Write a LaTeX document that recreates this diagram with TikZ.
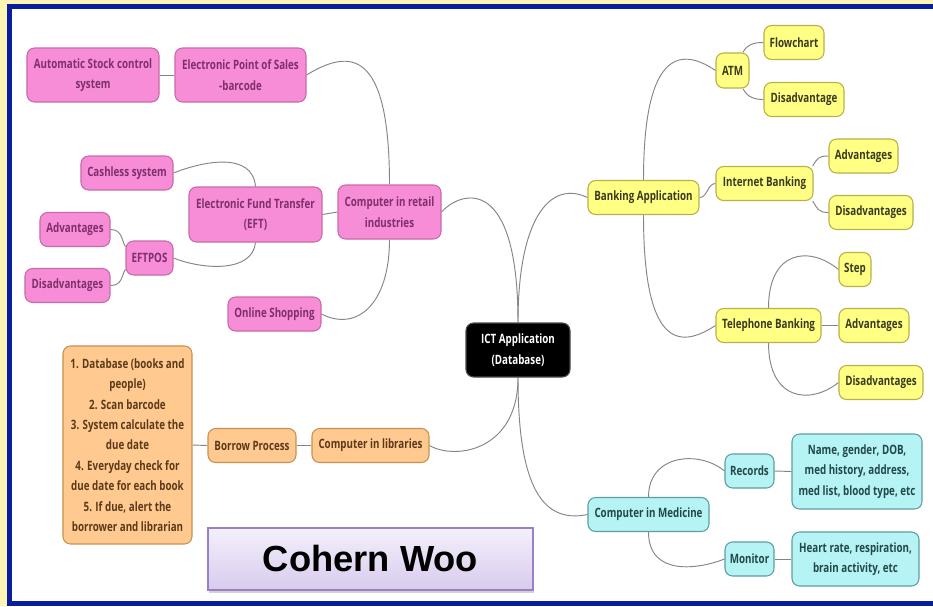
\documentclass[tikz,border=0pt]{standalone}
\usepackage{fontspec}
\setmainfont{Open Sans}[FakeStretch=0.76]
\newfontfamily\namefont{Liberation Sans}
\usetikzlibrary{backgrounds, shadows}
\definecolor{framebg}{HTML}{FDF5B5}
\definecolor{frameblue}{HTML}{0A1E9C}
\definecolor{pinkfill}{HTML}{F78DD6}
\definecolor{pinkline}{HTML}{C86AAA}
\definecolor{pinktext}{HTML}{7E2F6C}
\definecolor{yellowfill}{HTML}{FFFF84}
\definecolor{yellowline}{HTML}{B8B048}
\definecolor{yellowtext}{HTML}{3A3A20}
\definecolor{orangefill}{HTML}{FFC98F}
\definecolor{orangeline}{HTML}{C99050}
\definecolor{orangetext}{HTML}{5B3A1A}
\definecolor{cyanfill}{HTML}{B5F3F5}
\definecolor{cyanline}{HTML}{5E9EA0}
\definecolor{cyantext}{HTML}{234848}
\definecolor{nametop}{HTML}{F4F0FA}
\definecolor{namebottom}{HTML}{D8CBEE}
\definecolor{nameline}{HTML}{9B7FC4}
\definecolor{linkgray}{HTML}{858585}

\begin{document}
\begin{tikzpicture}[x=0.03cm, y=-0.03cm,
            topic/.style={rounded corners=6.5pt, line width=0.9pt, align=center,
                minimum height=1.02cm, inner sep=1pt,
                font=\bfseries\fontsize{11}{17.4}\selectfont},
            pinkbox/.style={topic, fill=pinkfill, draw=pinkline, text=pinktext},
            yellowbox/.style={topic, fill=yellowfill, draw=yellowline, text=yellowtext},
            orangebox/.style={topic, fill=orangefill, draw=orangeline, text=orangetext},
            cyanbox/.style={topic, fill=cyanfill, draw=cyanline, text=cyantext},
            rootbox/.style={topic, fill=black, draw=black!70, text=white},
            link/.style={draw=linkgray, line width=0.8pt}]
            \useasboundingbox (0,0) rectangle (933,606);
            \begin{scope}[on background layer]
                \fill[framebg] (0,0) rectangle (933,606);
                \fill[frameblue] (7,4) rectangle (933,606);
                \fill[white] (12,9) rectangle (933,601);
            \end{scope}

            \node[rootbox, minimum width=3.12cm, minimum height=1.62cm] (ict) at (518,350) {ICT Application\\(Database)};

            % retail
            \node[pinkbox, minimum width=3.96cm, minimum height=1.62cm] (autostock) at (93,75) {Automatic Stock control\\system};
            \node[pinkbox, minimum width=3.93cm, minimum height=1.62cm] (epos) at (240.5,75) {Electronic Point of Sales\\-barcode};
            \node[pinkbox, minimum width=2.76cm] (cashless) at (127,173) {Cashless system};
            \node[pinkbox, minimum width=3.99cm, minimum height=1.65cm] (eft) at (255.5,214.5) {Electronic Fund Transfer\\(EFT)};
            \node[pinkbox, minimum width=3.09cm, minimum height=1.62cm] (retail) at (389.5,212) {Computer in retail\\industries};
            \node[pinkbox, minimum width=2.1cm] (advl) at (75,229.5) {Advantages};
            \node[pinkbox, minimum width=1.41cm] (eftpos) at (149.5,258) {EFTPOS};
            \node[pinkbox, minimum width=2.55cm] (disl) at (67.5,285.5) {Disadvantages};
            \node[pinkbox, minimum width=2.79cm] (online) at (274.5,314) {Online Shopping};

            % libraries
            \node[orangebox, minimum width=3.87cm, minimum height=5.94cm] (steps) at (127.5,445) {1. Database (books and\\people)\\2. Scan barcode\\3. System calculate the\\due date\\4. Everyday check for\\due date for each book\\5. If due, alert the\\borrower and librarian};
            \node[orangebox, minimum width=2.64cm] (borrow) at (252,445.5) {Borrow Process};
            \node[orangebox, minimum width=3.51cm] (libraries) at (370.5,445.5) {Computer in libraries};

            % banking
            \node[yellowbox, minimum width=3.33cm] (banking) at (643.5,197.5) {Banking Application};
            \node[yellowbox, minimum width=0.99cm, minimum height=1.05cm] (atm) at (732.5,70.5) {ATM};
            \node[yellowbox, minimum width=1.8cm] (flowchart) at (794,42.5) {Flowchart};
            \node[yellowbox, minimum width=2.4cm] (disatm) at (804,99.5) {Disadvantage};
            \node[yellowbox, minimum width=2.91cm] (internet) at (764.5,183.5) {Internet Banking};
            \node[yellowbox, minimum width=2.07cm] (advi) at (863.5,156) {Advantages};
            \node[yellowbox, minimum width=2.52cm] (disi) at (871,212.5) {Disadvantages};
            \node[yellowbox, minimum width=0.96cm] (step) at (855,269.5) {Step};
            \node[yellowbox, minimum width=3.15cm] (telephone) at (768.5,325.5) {Telephone Banking};
            \node[yellowbox, minimum width=2.1cm] (advt) at (874,325.5) {Advantages};
            \node[yellowbox, minimum width=2.52cm] (dist) at (881,382.5) {Disadvantages};

            % medicine
            \node[cyanbox, minimum width=3.63cm] (medicine) at (648.5,514.5) {Computer in Medicine};
            \node[cyanbox, minimum width=1.47cm] (records) at (749.5,471) {Records};
            \node[cyanbox, minimum width=3.9cm, minimum height=2.25cm] (details) at (857,471.5) {Name, gender, DOB,\\med history, address,\\med list, blood type, etc};
            \node[cyanbox, minimum width=1.47cm] (monitor) at (749.5,559) {Monitor};
            \node[cyanbox, minimum width=3.81cm, minimum height=1.62cm] (vitals) at (855.5,559) {Heart rate, respiration,\\brain activity, etc};

            \node[draw=nameline, line width=0.9pt, top color=nametop, bottom color=namebottom,
                drop shadow={shadow xshift=1pt, shadow yshift=-2.5pt, opacity=0.35},
                minimum width=9.75cm, minimum height=1.86cm, font=\namefont\bfseries\fontsize{31}{36}\selectfont]
                (author) at (370.5,559) {Cohern Woo};

            \begin{scope}[on background layer]
                \draw[link] (retail.east) .. controls +(20,-22) and +(0,-148) .. (ict.north);
                \draw[link] (ict.north) .. controls +(0,-103) and +(-38,-18) .. (banking.west);
                \draw[link] (libraries.east) .. controls +(26,15) and +(0,73) .. (ict.south);
                \draw[link] (ict.south) .. controls +(0,103) and +(-48,10) .. (medicine.west);

                \draw[link] (autostock.east) -- (epos.west);
                \draw[link] (retail.north) .. controls +(0,-135) and +(44,-27) .. (epos.east);
                \draw[link] (retail.south) .. controls +(0,65) and +(35,18) .. (online.east);
                \draw[link] (eft.east) -- (retail.west);
                \draw[link] (cashless.east) .. controls +(30,-12) and +(-3,-35) .. (eft.north);
                \draw[link] (eftpos.east) .. controls +(30,12) and +(-3,30) .. (eft.south);
                \draw[link] (advl.east) .. controls +(12,0) and +(-4,-6) .. (eftpos.155);
                \draw[link] (disl.east) .. controls +(12,0) and +(-4,6) .. (eftpos.205);

                \draw[link] (steps.east) -- (borrow.west);
                \draw[link] (borrow.east) -- (libraries.west);

                \draw[link] (banking.north) .. controls +(0,-136) and +(-31,-21) .. (atm.west);
                \draw[link] (banking.south) .. controls +(0,141) and +(-31,20) .. (telephone.west);
                \draw[link] (banking.east) .. controls +(8,0) and +(-8,0) .. (internet.west);
                \draw[link] (atm.60) .. controls +(4,-8) and +(-10,0) .. (flowchart.west);
                \draw[link] (atm.-60) .. controls +(4,8) and +(-10,0) .. (disatm.west);
                \draw[link] (internet.20) .. controls +(5,-8) and +(-10,0) .. (advi.west);
                \draw[link] (internet.-20) .. controls +(5,8) and +(-10,0) .. (disi.west);
                \draw[link] (telephone.north) .. controls +(0,-58) and +(-29,-24) .. (step.west);
                \draw[link] (telephone.east) -- (advt.west);
                \draw[link] (telephone.south) .. controls +(0,57) and +(-29,23) .. (dist.west);

                \draw[link] (medicine.north) .. controls +(0,-43) and +(-25,-21) .. (records.west);
                \draw[link] (medicine.south) .. controls +(0,45) and +(-25,10) .. (monitor.west);
                \draw[link] (records.east) -- (details.west);
                \draw[link] (monitor.east) -- (vitals.west);
            \end{scope}
        \end{tikzpicture}
\end{document}
